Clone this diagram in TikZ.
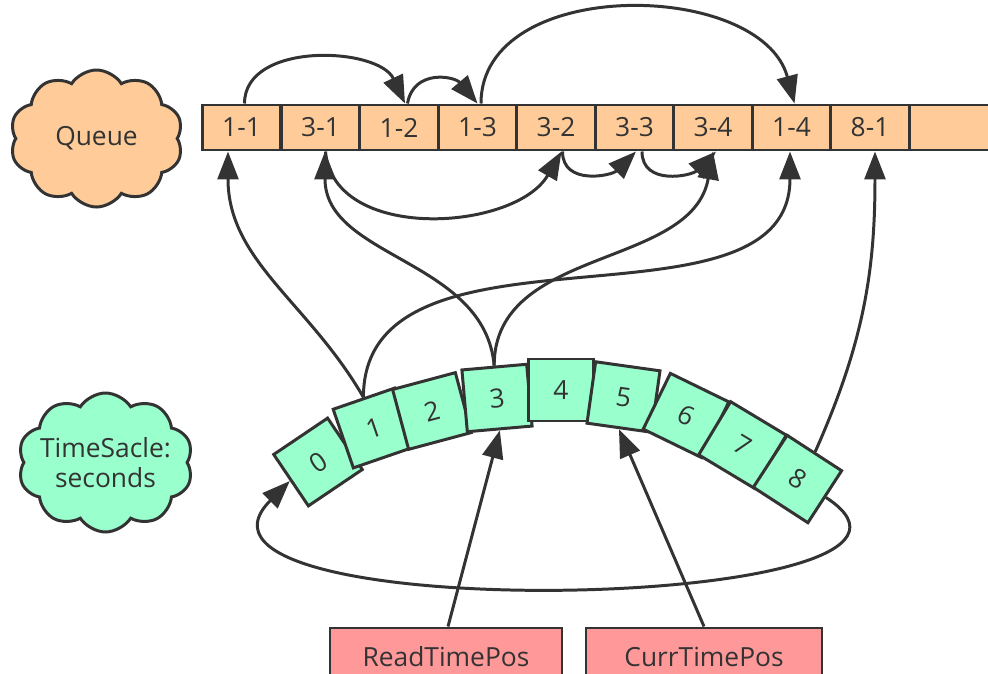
\documentclass[tikz,border=0pt]{standalone}
\usepackage{fontspec}
\setmainfont{Open Sans}
\usetikzlibrary{shapes.symbols,arrows.meta}
\definecolor{queueclr}{HTML}{FFCC99}
\definecolor{slotclr}{HTML}{99FFCC}
\definecolor{posclr}{HTML}{FF9999}
\definecolor{lineclr}{HTML}{333333}

\begin{document}
\begin{tikzpicture}[
  font=\fontsize{15}{19}\selectfont, color=lineclr, line width=1.7pt,
  >={Triangle[length=0.56cm,width=0.42cm]},
  qcell/.style={draw, fill=queueclr, minimum width=1.57cm, minimum height=0.9cm, inner sep=0pt},
  tcell/.style={draw, fill=slotclr, minimum width=1.3cm, minimum height=1.24cm, inner sep=0pt},
  posbox/.style={draw, fill=posclr, minimum height=1.16cm, inner sep=0pt},
  bubble/.style={cloud, cloud puffs=10, cloud puff arc=115, draw, align=center, inner sep=0pt}
]
\path[use as bounding box, clip] (0,0) rectangle (19.76,-13.48);

% queue
\node[bubble, fill=queueclr, minimum width=3.46cm, minimum height=2.74cm] (queue) at (1.93,-2.77) {Queue};
\node[qcell] (q11) at (4.83,-2.55) {1-1};
\node[qcell] (q31) at (6.41,-2.55) {3-1};
\node[qcell] (q12) at (7.98,-2.55) {1-2};
\node[qcell] (q13) at (9.55,-2.55) {1-3};
\node[qcell] (q32) at (11.12,-2.55) {3-2};
\node[qcell] (q33) at (12.69,-2.55) {3-3};
\node[qcell] (q34) at (14.26,-2.55) {3-4};
\node[qcell] (q14) at (15.83,-2.55) {1-4};
\node[qcell] (q81) at (17.40,-2.55) {8-1};
\node[qcell, minimum width=2cm] (qend) at (19.185,-2.55) {};

% time scale
\node[bubble, fill=slotclr, aspect=1.5, inner xsep=-2mm, inner ysep=-4mm, minimum width=3.5cm, minimum height=2.78cm] (scale) at (2.11,-9.25) {TimeSacle:\\[-2pt]seconds};
\node[tcell, rotate=34] (c0) at (6.36,-9.24) {0};
\node[tcell, rotate=19] (c1) at (7.48,-8.56) {1};
\node[tcell, rotate=15] (c2) at (8.64,-8.22) {2};
\node[tcell, rotate=5] (c3) at (9.94,-7.96) {3};
\node[tcell] (c4) at (11.22,-7.80) {4};
\node[tcell, rotate=-8] (c5) at (12.47,-7.94) {5};
\node[tcell, rotate=-26] (c6) at (13.72,-8.31) {6};
\node[tcell, rotate=-31] (c7) at (14.85,-8.90) {7};
\node[tcell, rotate=-33] (c8) at (15.95,-9.58) {8};

% pointers
\node[posbox, minimum width=4.64cm] (rp) at (8.92,-13.14) {ReadTimePos};
\node[posbox, minimum width=4.72cm] (ct) at (14.08,-13.14) {CurrTimePos};

% queue links
\path [->] ([xshift=0.06cm]q11.north) edge[out=90, in=115] ([xshift=0.12cm]q12.north);
\path [->] ([xshift=0.17cm]q12.north) edge[out=80, in=130, looseness=1.3] (q13.north);
\path [->] ([xshift=0.07cm]q13.north) edge[out=90, in=105, looseness=1.05] ([xshift=0.06cm]q14.north);
\path [->] ([xshift=0.1cm]q31.south) edge[out=-85, in=-120] ([xshift=0.11cm]q32.south);
\path [->] ([xshift=0.13cm]q32.south) edge[out=-90, in=-135, looseness=1.2] ([xshift=0.03cm]q33.south);
\path [->] ([xshift=0.15cm]q33.south) edge[out=-90, in=-135, looseness=1.2] ([xshift=0.06cm]q34.south);

% slots to queue
\path [->] (c1.north) edge[out=120, in=-90] ([xshift=-0.27cm]q11.south);
\path [->] (c1.north) edge[out=90, in=-90] ([xshift=-0.03cm]q14.south);
\path [->] (c3.north) edge[out=95, in=-90] ([xshift=0.09cm]q31.south);
\path [->] (c3.north) edge[out=90, in=-100] (q34.south);
\path [->] (c8.north) edge[out=66, in=-90] ([xshift=0.1cm]q81.south);

% wrap around
\path [->] (c8.east) edge[out=-33, in=-135] (c0.west);

% pointers to slots
\path [->] ([xshift=0.04cm]rp.north) edge (c3.south);
\path [->] (ct.north) edge (c5.south);
\end{tikzpicture}
\end{document}
